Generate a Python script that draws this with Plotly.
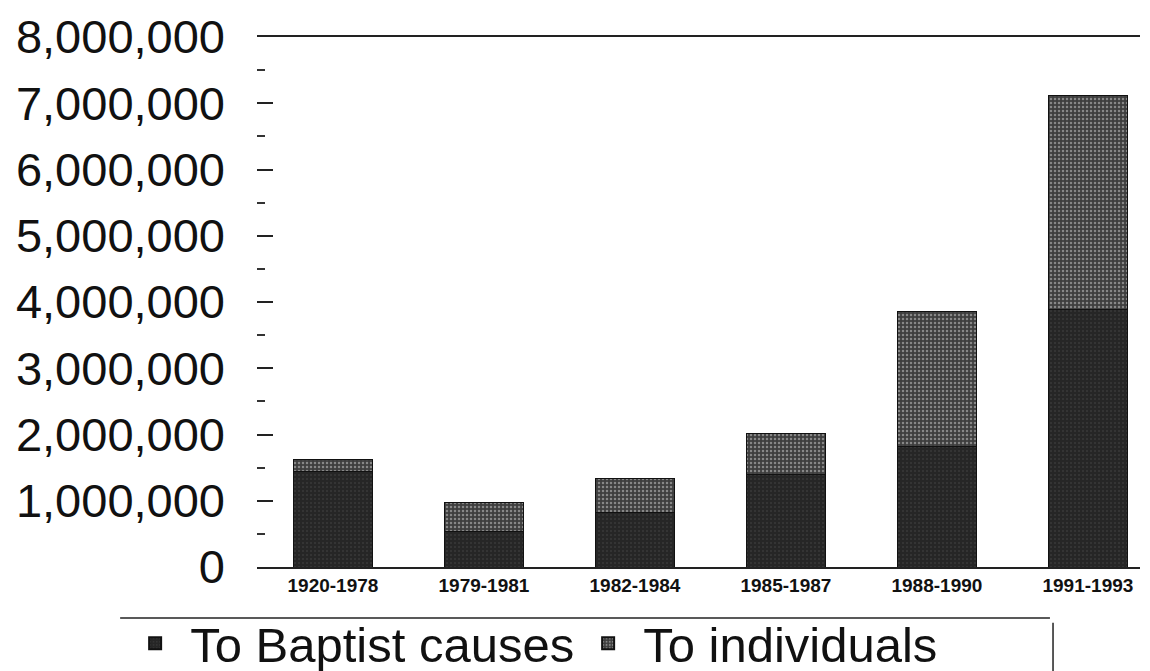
import plotly.graph_objects as go

periods = ["1920-1978", "1979-1981", "1982-1984", "1985-1987", "1988-1990", "1991-1993"]
baptist_causes = [1440000, 540000, 820000, 1390000, 1820000, 3890000]
to_individuals = [190000, 430000, 510000, 630000, 2030000, 3230000]
y_tick_values = [0, 1000000, 2000000, 3000000, 4000000, 5000000, 6000000, 7000000, 8000000]
y_tick_labels = ["0", "1,000,000", "2,000,000", "3,000,000", "4,000,000",
                 "5,000,000", "6,000,000", "7,000,000", "8,000,000"]

fig = go.Figure()
fig.add_trace(go.Bar(
    x=periods, y=baptist_causes, name="To Baptist causes",
    marker=dict(color="#2a2a2a", line=dict(color="#111", width=1),
                pattern=dict(shape=".", fgcolor="#4a4a4a", bgcolor="#262626", size=4, solidity=0.2)),
))
fig.add_trace(go.Bar(
    x=periods, y=to_individuals, name="To individuals",
    marker=dict(color="#5e5e5e", line=dict(color="#111", width=1),
                pattern=dict(shape=".", fgcolor="#cfcfcf", bgcolor="#3e3e3e", size=4, solidity=0.3)),
))

# legend frame (top edge and right edge, as in the scanned original)
frame = dict(type="line", xref="paper", yref="paper", line=dict(color="#222", width=1.5))
fig.add_shape(frame, x0=-0.155, x1=0.898, y0=-0.0962, y1=-0.0962)
fig.add_shape(frame, x0=0.9015, x1=0.9015, y0=-0.105, y1=-0.215)

fig.update_layout(
    barmode="stack",
    bargap=0.48,
    width=1150, height=671,
    margin=dict(l=249, r=18, t=29, b=112, autoexpand=False),
    paper_bgcolor="white", plot_bgcolor="white",
    font=dict(family="Liberation Sans, Arial, sans-serif", color="#111"),
    showlegend=True,
    legend=dict(
        orientation="h", traceorder="normal",
        x=-0.155, xanchor="left", y=-0.0717, yanchor="top",
        font=dict(size=49, color="#111"),
        borderwidth=0, bgcolor="rgba(0,0,0,0)",
        itemsizing="constant", itemwidth=60,
        entrywidth=378, entrywidthmode="pixels",
    ),
    xaxis=dict(
        range=[-0.503, 5.345],
        showline=True, linecolor="#222", linewidth=1.5, mirror=True,
        ticks="", showgrid=False,
        tickfont=dict(size=19, family="Liberation Sans, Arial, sans-serif", color="#111", weight="bold"),
    ),
    yaxis=dict(
        range=[0, 8000000], tickvals=y_tick_values, ticktext=y_tick_labels,
        showgrid=False, showline=False, zeroline=False,
        ticks="inside", ticklen=16, tickwidth=1.5, tickcolor="#222",
        minor=dict(dtick=500000, ticks="inside", ticklen=8, tickwidth=1.5, tickcolor="#333"),
        tickfont=dict(size=47, color="#111"),
        ticklabelstandoff=31,
    ),
)

fig.write_html("out.html")
